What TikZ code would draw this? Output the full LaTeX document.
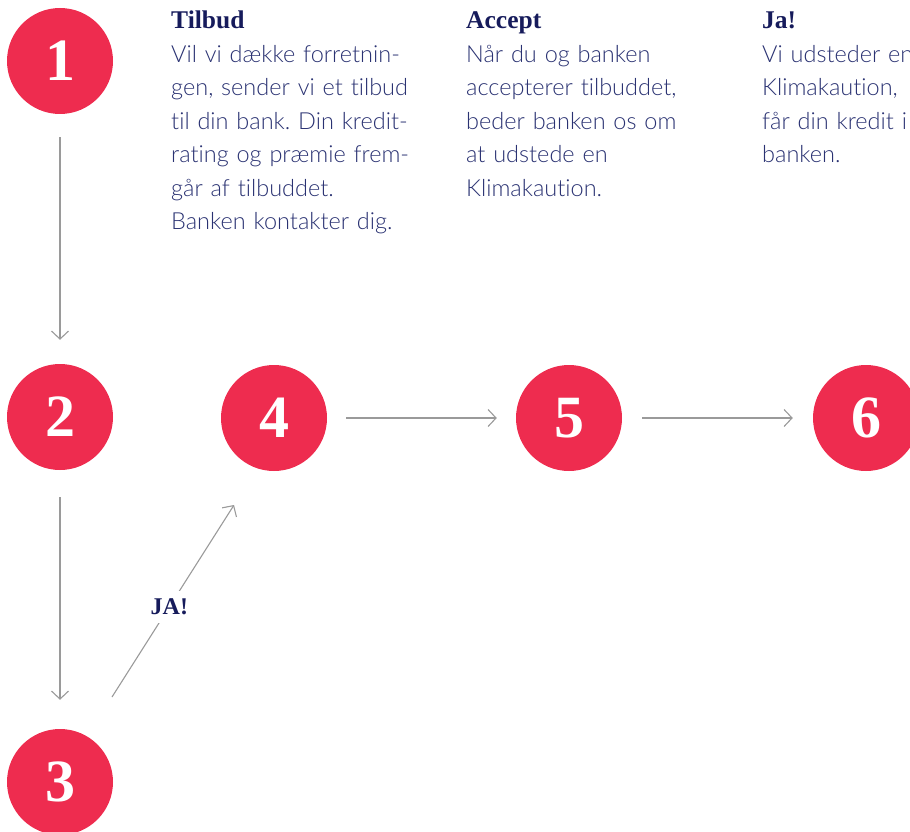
\documentclass[tikz,border=0pt]{standalone}
\usepackage{fontspec}
\setmainfont{Lato}[UprightFont=* Light,RawFeature={-liga}]
\newfontfamily\serifhead{Liberation Serif}
\usetikzlibrary{arrows.meta}
\usepackage{xcolor}
\definecolor{stepred}{HTML}{EE2C4F}
\definecolor{titlenavy}{HTML}{161B5B}
\definecolor{bodynavy}{HTML}{2A3272}
\definecolor{flowgray}{HTML}{9A9A9A}
\frenchspacing

\newcommand{\steptitle}[1]{{\serifhead\bfseries\fontsize{25.5}{33.5}\selectfont\color{titlenavy}#1}}

\tikzset{
  stepnum/.style={circle,fill=stepred,minimum size=106pt,inner sep=0pt,text=white,
    font=\serifhead\bfseries\fontsize{60}{60}\selectfont},
  stepflow/.style={draw=flowgray,line width=1.1pt,-{Straight Barb[length=8pt,width=17pt]}},
  steptext/.style={anchor=base west,inner sep=0pt,text width=270pt,align=left,
    text=bodynavy,font=\fontsize{23.5}{33.5}\selectfont},
}

\begin{document}
\begin{tikzpicture}[x=1pt,y=-1pt]
  \useasboundingbox (0,0) rectangle (910,832);
  \clip (0,0) rectangle (910,832);

  % the six steps
  \node[stepnum] (c1) at (60,61) {1};
  \node[stepnum] (c2) at (60,417) {2};
  \node[stepnum] (c3) at (60,782) {3};
  \node[stepnum] (c4) at (274,418) {4};
  \node[stepnum] (c5) at (569,418) {5};
  \node[stepnum] (c6) at (866,418) {6};

  \coordinate (ja-from) at (112,697);
  \coordinate (ja-to) at (234,505);

  \draw[stepflow,shorten <=23pt,shorten >=24pt] (c1) -- (c2);
  \draw[stepflow,shorten <=27pt,shorten >=29pt] (c2) -- (c3);
  \draw[stepflow] (ja-from) -- node[pos=0.47,fill=white,inner sep=8pt,
    font=\serifhead\bfseries\fontsize{24}{24}\selectfont,text=titlenavy] (ja) {JA!} (ja-to);
  \draw[stepflow,shorten <=19pt,shorten >=19pt] (c4) -- (c5);
  \draw[stepflow,shorten <=20pt,shorten >=20pt] (c5) -- (c6);

  % texts above the steps
  \node[steptext] (tilbud) at (171,29) {\steptitle{Tilbud}\\
    Vil vi dække forretnin-\\gen, sender vi et tilbud\\til din bank. Din kredit-\\
    rating og præmie frem-\\går af tilbuddet.\\Banken kontakter dig.};
  \node[steptext] (accept) at (466,29) {\steptitle{Accept}\\
    Når du og banken\\accepterer tilbuddet,\\beder banken os om\\at udstede en\\Klimakaution.};
  \node[steptext] (ja6) at (762,29) {\steptitle{Ja!}\\
    Vi udsteder en\\Klimakaution,\\får din kredit i\\banken.};
\end{tikzpicture}
\end{document}
